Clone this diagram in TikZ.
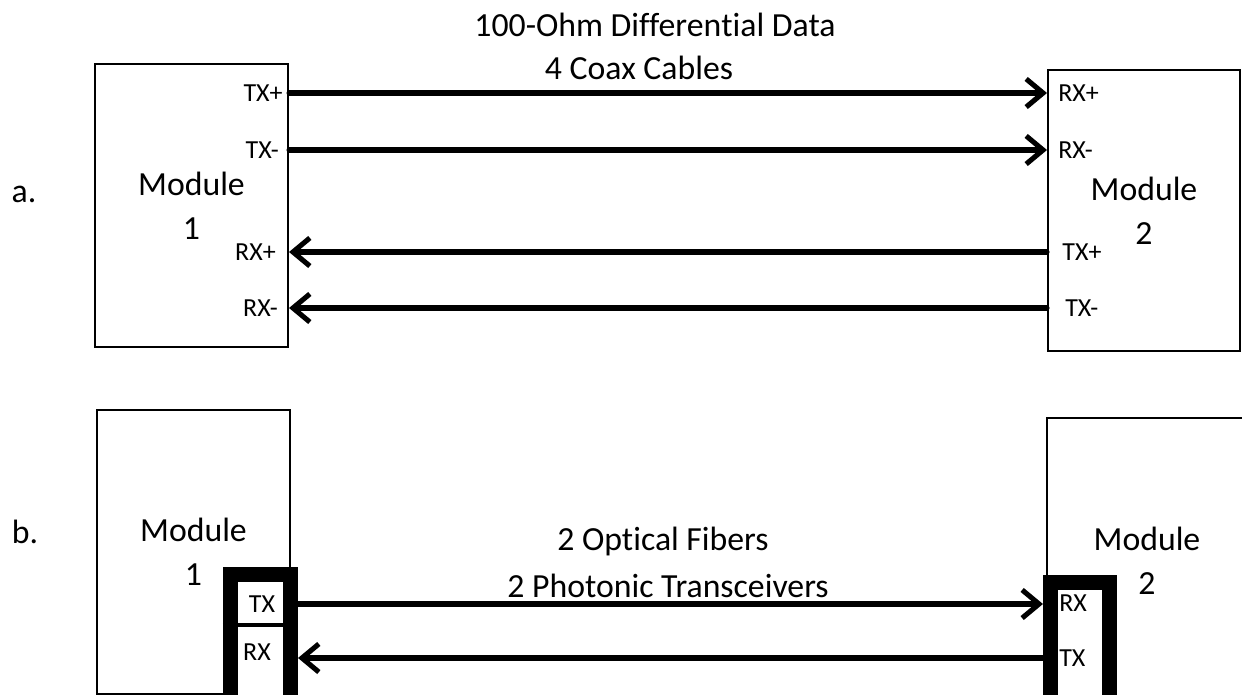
\documentclass[tikz,border=0pt]{standalone}
\usepackage{fontspec}
\setmainfont{Carlito}[RawFeature={-liga;-clig;-calt;-dlig}]
\usepackage{tikz}
\usetikzlibrary{arrows.meta, positioning}
\tikzset{>={Straight Barb[length=12pt,width=20pt]}}
\tikzset{
  module/.style={draw, line width=1.4pt, align=center, font=\fontsize{24}{31.5}\selectfont, inner sep=0pt},
  pin/.style={font=\fontsize{18.5}{20}\selectfont, inner sep=0pt},
  caption/.style={font=\fontsize{24}{29}\selectfont, anchor=base, inner sep=0pt},
  wire/.style={line width=3.6pt, line cap=round, ->},
  frame/.style={draw, line width=10.7pt, fill=white, inner sep=0pt},
}

\begin{document}
\begin{tikzpicture}[x=0.025cm, y=-0.025cm]
\useasboundingbox (0,0) rectangle (1242,695);
\clip (0,0) rectangle (1242,695);
\node[caption] (la) at (24,203) {a.};
\node[caption] (lb) at (25,543) {b.};
\node[caption] (cap1) at (655,37) {100-Ohm Differen\kern0pt tial Data};
\node[caption] (cap2) at (639,80) {4 Coax Cables};
\node[caption] (cap3) at (663,550) {2 Optical Fibers};
\node[caption] (cap4) at (668,597) {2 Photonic Transceivers};

\node[module, minimum width=4.825cm, minimum height=7.05cm] (m1a) at (191.5,205.5) {Module\\1};
\node[module, minimum width=4.8cm, minimum height=7.025cm] (m2a) at (1144,210.5) {Module\\2};
\coordinate (r1) at (0,93);
\coordinate (r2) at (0,150);
\coordinate (r3) at (0,252);
\coordinate (r4) at (0,308);
\node[pin, anchor=east] (txp1) at ([xshift=-4.3pt]m1a.east |- r1) {TX+};
\node[pin, anchor=east] (txm1) at ([xshift=-7.1pt]m1a.east |- r2) {TX-};
\node[pin, anchor=east] (rxp1) at ([xshift=-9.2pt]m1a.east |- r3) {RX+};
\node[pin, anchor=east] (rxm1) at ([xshift=-7.8pt]m1a.east |- r4) {RX-};
\node[pin, anchor=west] (rxp2) at ([xshift=7.8pt]m2a.west |- r1) {RX+};
\node[pin, anchor=west] (rxm2) at ([xshift=7.8pt]m2a.west |- r2) {RX-};
\node[pin, anchor=west] (txp2) at ([xshift=10.7pt]m2a.west |- r3) {TX+};
\node[pin, anchor=west] (txm2) at ([xshift=12.8pt]m2a.west |- r4) {TX-};
\draw[wire] (m1a.east |- r1) -- (m2a.west |- r1);
\draw[wire] (m1a.east |- r2) -- (m2a.west |- r2);
\draw[wire] (m2a.west |- r3) -- (m1a.east |- r3);
\draw[wire] (m2a.west |- r4) -- (m1a.east |- r4);

\node[module, minimum width=4.825cm, minimum height=7.075cm] (m1b) at (193.5,552) {Module\\1};
\node[module, minimum width=5cm, minimum height=7.15cm] (m2b) at (1147,561) {Module\\2};
\node[frame, minimum width=1.5cm, minimum height=3.2cm] (x1) at (260.5,638.5) {};
\node[frame, minimum width=1.475cm, minimum height=3cm] (x2) at (1080,642.5) {};
\draw[line width=2.5pt] (x1.west |- 0,625) -- (x1.east |- 0,625);
\node[pin] (tx1) at (262,604) {TX};
\node[pin] (rx1) at (257,652) {RX};
\node[pin, anchor=west] (rx2) at (1059,603) {RX};
\node[pin, anchor=west] (tx2) at (1059,658) {TX};
\draw[wire] (x1.east |- tx1) -- (x2.west |- tx1);
\draw[wire] (x2.west |- tx2) -- (x1.east |- tx2);
\end{tikzpicture}
\end{document}
